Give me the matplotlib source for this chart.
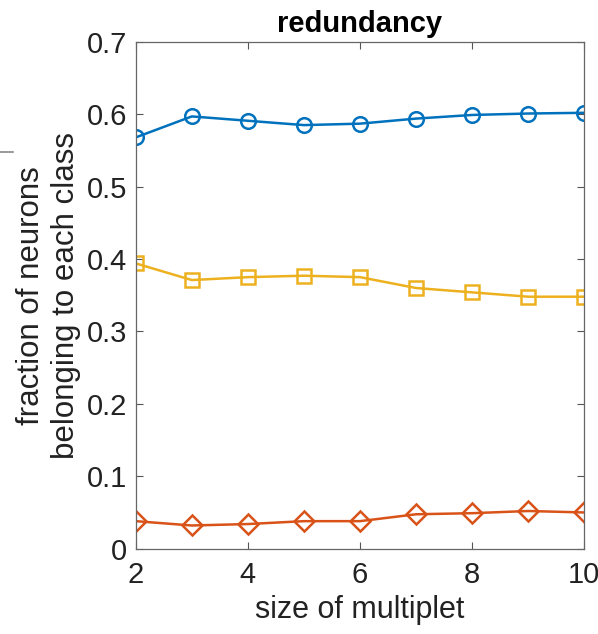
import matplotlib.pyplot as plt
from matplotlib.lines import Line2D

plt.rcParams['font.family'] = ['Liberation Sans', 'DejaVu Sans']

multiplet_size = [2, 3, 4, 5, 6, 7, 8, 9, 10]
frac_circle = [0.568, 0.597, 0.591, 0.585, 0.587, 0.594, 0.599, 0.601, 0.602]
frac_square = [0.394, 0.371, 0.375, 0.377, 0.375, 0.360, 0.354, 0.348, 0.348]
frac_diamond = [0.038, 0.032, 0.034, 0.038, 0.038, 0.0475, 0.049, 0.052, 0.050]

x_ticks = [2, 4, 6, 8, 10]
y_ticks = [0, 0.1, 0.2, 0.3, 0.4, 0.5, 0.6, 0.7]

fig = plt.figure(figsize=(5.98, 6.34), dpi=100)
ax = fig.add_axes([0.227, 0.1346, 0.75, 0.7994])

style = dict(linewidth=1.8, markersize=10.5, markerfacecolor='none', markeredgewidth=1.8)
ax.plot(multiplet_size, frac_circle, color='#0072BD', marker='o', **style)
ax.plot(multiplet_size, frac_square, color='#EDB120', marker='s', **style)
ax.plot(multiplet_size, frac_diamond, color='#D95319', marker='D', **style)

ax.set_xlim(2, 10)
ax.set_ylim(0, 0.7)
ax.set_xticks(x_ticks)
ax.set_yticks(y_ticks)
ax.set_yticklabels(['0', '0.1', '0.2', '0.3', '0.4', '0.5', '0.6', '0.7'])
ax.tick_params(direction='in', top=True, right=True, labelsize=21, length=5,
               color='#555555', labelcolor='#222222')
ax.tick_params(axis='x', pad=9)
ax.tick_params(axis='y', pad=6)
for sp in ax.spines.values():
    sp.set_color('#666666')
    sp.set_linewidth(0.9)

ax.set_xlabel('size of multiplet', fontsize=22, color='#222222', labelpad=4)
ax.set_ylabel('fraction of neurons\nbelonging to each class', fontsize=22.5,
              color='#222222')
ax.yaxis.set_label_coords(-0.122, 0.5)
ax.set_title('redundancy', fontsize=21, fontweight='bold', pad=7)

# short gray dash on the left edge
fig.add_artist(Line2D([0, 0.022], [0.760, 0.760], transform=fig.transFigure,
                      color='#888888', linewidth=1.2))

fig.savefig('out.png', dpi=100)
